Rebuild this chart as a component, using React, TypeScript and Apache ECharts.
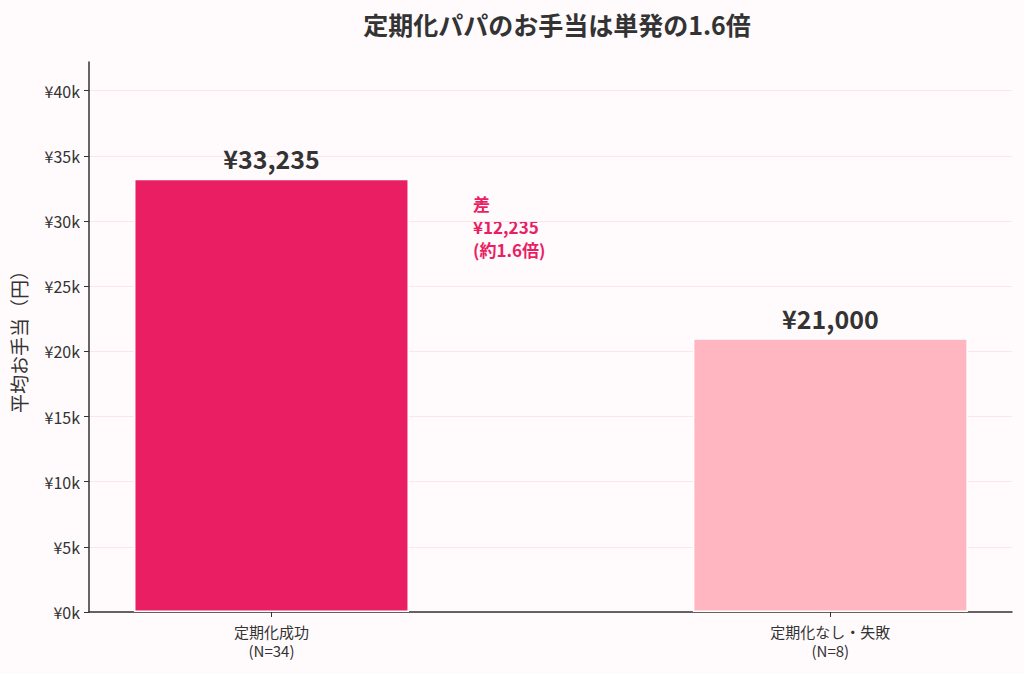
import React, { useEffect, useRef } from "react";
import * as echarts from "echarts";

const categories = ["定期化成功\n(N=34)", "定期化なし・失敗\n(N=8)"];
const values = [33235, 21000];
const barColors = ["#E91E63", "#FFB6C1"];
const yTicks = [0, 5000, 10000, 15000, 20000, 25000, 30000, 35000, 40000];
const titleText = "定期化パパのお手当は単発の1.6倍";
const yAxisName = "平均お手当（円）";
const diffLines = ["差", "¥12,235", "(約1.6倍)"];

const FONT = "'Noto Sans CJK JP', 'Noto Sans', sans-serif";
const INK = "#333333";

export default function App() {
  const ref = useRef<HTMLDivElement>(null);
  useEffect(() => {
    if (!ref.current) return;
    const chart = echarts.init(ref.current, null, { renderer: "svg" });
    chart.setOption({
      animation: false,
      backgroundColor: "#FFFAFC",
      textStyle: { fontFamily: FONT },
      title: {
        text: titleText,
        left: 552,
        top: 6,
        textAlign: "center",
        textStyle: { fontSize: 25, fontWeight: "bold", color: INK, fontFamily: FONT },
      },
      grid: { left: 89, right: 12, top: 62, bottom: 62, containLabel: false, outerBoundsMode: "none" },
      xAxis: {
        type: "value",
        min: -0.3265,
        max: 1.325,
        splitLine: { show: false },
        axisLine: { show: true, onZero: false, lineStyle: { color: INK, width: 1.5 } },
        axisTick: { show: true, customValues: [0, 1], length: 5, lineStyle: { color: INK, width: 1 } },
        axisLabel: {
          customValues: [0, 1],
          formatter: (v: number) => categories[Math.round(v)] ?? "",
          fontSize: 15,
          color: INK,
          lineHeight: 19,
          margin: 10,
          fontFamily: FONT,
        },
      },
      yAxis: {
        type: "value",
        min: 0,
        max: 42200,
        interval: 5000,
        name: yAxisName,
        nameLocation: "middle",
        nameGap: 61,
        nameTextStyle: { fontSize: 19, color: INK, fontFamily: FONT },
        axisLine: { show: true, onZero: false, lineStyle: { color: INK, width: 1.5 } },
        axisTick: { show: true, customValues: yTicks, length: 5, lineStyle: { color: INK } },
        axisLabel: {
          customValues: yTicks,
          formatter: (v: number) => "¥" + v / 1000 + "k",
          fontSize: 16,
          color: INK,
          margin: 9,
          fontFamily: FONT,
        },
        splitLine: { show: true, lineStyle: { color: "#FFE4EC", width: 1 } },
      },
      series: [
        {
          type: "bar",
          barWidth: 275,
          data: values.map((v, i) => ({
            value: [i, v],
            itemStyle: { color: barColors[i], borderColor: "#ffffff", borderWidth: 1.5 },
          })),
          label: {
            show: true,
            position: "top",
            distance: 8,
            formatter: (p: any) => "¥" + p.value[1].toLocaleString("en-US"),
            fontSize: 25,
            fontWeight: "bold",
            color: INK,
            fontFamily: FONT,
          },
        },
      ],
      graphic: [
        {
          type: "text",
          left: 473,
          top: 192,
          style: {
            text: diffLines.join("\n"),
            fill: "#E91E63",
            fontSize: 17,
            fontWeight: "bold",
            lineHeight: 23,
            fontFamily: FONT,
          },
        },
      ],
    });
    return () => chart.dispose();
  }, []);
  return <div ref={ref} style={{ width: 1024, height: 674, position: "absolute", left: 0, top: 0 }} />;
}
